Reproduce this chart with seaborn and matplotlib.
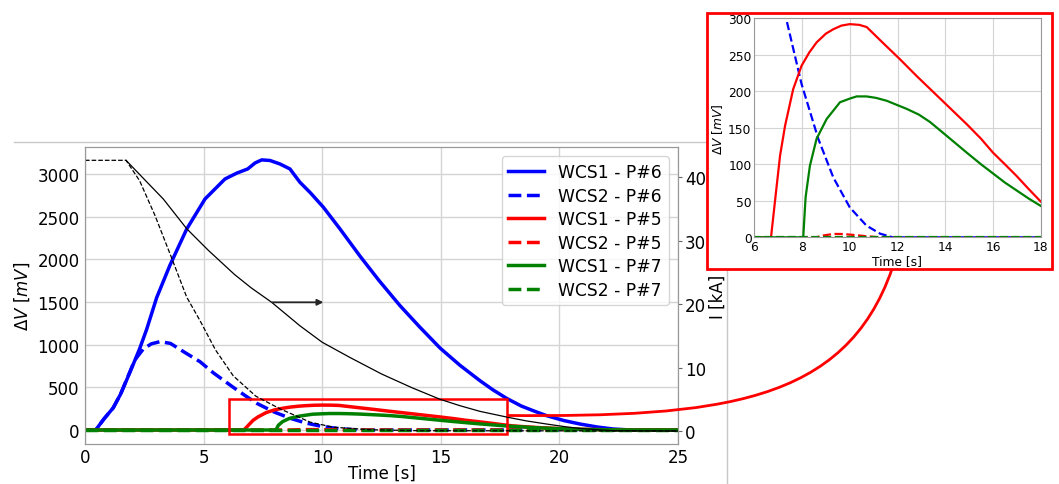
import numpy as np
import matplotlib
matplotlib.use('Agg')
import matplotlib.pyplot as plt
import seaborn as sns
from matplotlib.patches import Rectangle, PathPatch
from matplotlib.path import Path
from matplotlib.lines import Line2D

# --- data ---
t_wcs1_p6 = [0, 0.45, 0.8, 1.19, 1.5, 1.9, 2.3, 2.6, 3.02, 3.58, 4.29, 5.06, 5.9, 6.4, 6.86,
             7.17, 7.45, 7.8, 8.22, 8.64, 9.06, 9.5, 10.05, 10.75, 11.6, 12.4, 13.28, 14.1,
             14.97, 15.8, 16.65, 17.2, 17.78, 18.4, 19.0, 19.46, 20.2, 20.87, 21.6, 22.26, 23.0, 25]
v_wcs1_p6 = [0, 0, 130, 260, 420, 680, 950, 1180, 1550, 1930, 2356, 2707, 2941, 3010, 3059,
             3129, 3165, 3158, 3117, 3059, 2903, 2780, 2610, 2356, 2035, 1750, 1457, 1210,
             960, 760, 578, 470, 370, 280, 215, 168, 110, 70, 35, 12, 0, 0]

t_wcs2_p6 = [0, 0.45, 0.8, 1.19, 1.5, 1.8, 2.1, 2.46, 2.8, 3.16, 3.6, 4.2, 4.85, 5.41, 6.25,
             6.82, 7.26, 7.98, 8.68, 9.31, 10.0, 10.7, 11.27, 11.8, 25]
v_wcs2_p6 = [0, 0, 130, 260, 420, 620, 820, 950, 1010, 1035, 1015, 910, 800, 670, 500,
             390, 310, 210, 135, 82, 41, 16, 5, 0, 0]

t_wcs1_p5 = [0, 6.7, 6.94, 7.08, 7.29, 7.63, 7.98, 8.3, 8.61, 9.0, 9.31, 9.65, 10.0, 10.4,
             10.71, 11.4, 12.1, 12.8, 13.5, 14.2, 14.9, 15.5, 16.0, 16.5, 16.99, 17.5, 18.0,
             18.5, 19.0, 20.0, 21.0, 22.0, 23.0, 25.0]
v_wcs1_p5 = [0, 0, 71, 112, 153, 203, 235, 253, 267, 279, 285, 290, 292, 291,
             288, 266, 244, 221, 199, 177, 155, 135, 116, 100, 84, 66, 49,
             39, 30, 17, 8, 3, 0, 0]

t_wcs2_p5 = [0, 8.6, 8.9, 9.31, 9.7, 10.0, 10.4, 10.7, 11.27, 25]
v_wcs2_p5 = [0, 0, 2.5, 4.6, 4.5, 3.7, 2.5, 1.4, 0, 0]

t_wcs1_p7 = [0, 8.05, 8.15, 8.33, 8.61, 9.03, 9.59, 10.0, 10.29, 10.7, 11.1, 11.55, 12.38,
             12.9, 13.36, 14.06, 14.9, 15.5, 16.02, 16.5, 17.0, 17.5, 18.0, 18.5, 19.0, 20.0,
             21.0, 22.0, 23.0, 25.0]
v_wcs1_p7 = [0, 0, 55, 98, 135, 162, 185, 190, 193, 193, 191, 187, 176,
             168, 158, 139, 116, 100, 87, 75, 64, 53, 43, 35, 27, 15,
             7, 2, 0, 0]

t_wcs2_p7 = [0, 25]
v_wcs2_p7 = [0, 0]

# current [kA]
t_i_solid = [1.73, 2.5, 3.3, 4.29, 5.2, 6.3, 7.0, 7.87, 9.06, 10.0, 11.17, 12.5, 13.8, 14.97,
             15.8, 16.65, 17.78, 18.6, 19.46, 20.2, 20.87, 21.6, 22.3, 25]
i_solid = [42.7, 39.7, 36.6, 31.9, 28.5, 24.7, 22.6, 20.3, 16.6, 14.0, 11.6, 9.0, 6.8, 5.0,
           4.0, 3.1, 2.2, 1.6, 1.1, 0.7, 0.4, 0.2, 0.05, 0]

t_i_dashed = [0, 1.73, 2.3, 2.95, 3.6, 4.29, 4.85, 5.5, 6.25, 7.2, 8.22, 9.49, 10.46, 12.0, 14.0, 25]
i_dashed = [42.7, 42.7, 39.5, 34.0, 27.8, 21.1, 17.4, 12.8, 8.7, 5.5, 3.5, 1.4, 0.6, 0.2, 0.05, 0]

series = [
    (t_wcs1_p6, v_wcs1_p6, 'blue', '-', 'WCS1 - P#6'),
    (t_wcs2_p6, v_wcs2_p6, 'blue', '--', 'WCS2 - P#6'),
    (t_wcs1_p5, v_wcs1_p5, 'red', '-', 'WCS1 - P#5'),
    (t_wcs2_p5, v_wcs2_p5, 'red', '--', 'WCS2 - P#5'),
    (t_wcs1_p7, v_wcs1_p7, 'green', '-', 'WCS1 - P#7'),
    (t_wcs2_p7, v_wcs2_p7, 'green', '--', 'WCS2 - P#7'),
]

W, H = 1059, 485
fig = plt.figure(figsize=(W / 100, H / 100), dpi=100)

def fx(px):
    return px / W

def fy(py):
    return (H - py) / H

spine_col = '0.6'
grid_col = '0.83'

# main axes
ax = fig.add_axes([fx(85), fy(445), fx(678) - fx(85), fy(148) - fy(445)])
for t, v, c, ls, lab in series:
    sns.lineplot(x=t, y=v, ax=ax, color=c, linestyle=ls, linewidth=2.5, label=lab)
ax.set_xlim(0, 25)
ax.set_ylim(-164, 3316)
ax.set_xticks([0, 5, 10, 15, 20, 25])
ax.set_yticks([0, 500, 1000, 1500, 2000, 2500, 3000])
ax.grid(True, color=grid_col, linewidth=1)
ax.set_axisbelow(True)
ax.set_xlabel('Time [s]', fontsize=12, labelpad=-2)
ax.set_ylabel(r'$\Delta V\ [mV]$', fontsize=12)
ax.tick_params(labelsize=12, length=0, pad=4)
ax.tick_params(axis='x', pad=3)
for s in ax.spines.values():
    s.set_color(spine_col)
ax.add_patch(Rectangle((6.07, -47), 17.78 - 6.07, 363 + 47, fill=False,
                       edgecolor='red', linewidth=1.8, zorder=5))
ax.legend(loc='upper right', fontsize=12.3, labelspacing=0.32, handlelength=2.1,
          borderaxespad=0.55)

# current on twin axis
ax2 = ax.twinx()
sns.lineplot(x=t_i_solid, y=i_solid, ax=ax2, color='black', linewidth=0.9, legend=False)
sns.lineplot(x=t_i_dashed, y=i_dashed, ax=ax2, color='black', linestyle='--',
             linewidth=0.9, legend=False)
ax2.set_ylim(-2.05, 44.8)
ax2.set_yticks([0, 10, 20, 30, 40])
ax2.set_ylabel('I [kA]', fontsize=12, labelpad=2)
ax2.tick_params(labelsize=12, color='0.4', length=3, pad=2)
for s in ax2.spines.values():
    s.set_color(spine_col)
ax2.annotate('', xy=(10.05, 20.3), xytext=(7.9, 20.3),
             arrowprops=dict(arrowstyle='-|>', color='0.15', lw=1.3, mutation_scale=9,
                             shrinkA=0, shrinkB=0))

# panel edge lines
fig.add_artist(Line2D([fx(14), fx(707)], [fy(143), fy(143)], color='0.78', lw=1,
                      transform=fig.transFigure, zorder=0.5))
fig.add_artist(Line2D([fx(727), fx(727)], [fy(270), fy(485)], color='0.78', lw=1,
                      transform=fig.transFigure, zorder=0.5))

# box around inset
fig.add_artist(Rectangle((fx(707), fy(269.5)), fx(1052) - fx(707), fy(14) - fy(269.5),
                         facecolor='white', edgecolor='red', linewidth=2,
                         transform=fig.transFigure, zorder=4))

# connector curve
verts = [(fx(507), fy(416.5)), (fx(720), fy(418)), (fx(845), fy(405)), (fx(892), fy(270))]
codes = [Path.MOVETO, Path.CURVE4, Path.CURVE4, Path.CURVE4]
fig.add_artist(PathPatch(Path(verts, codes), facecolor='none', edgecolor='red',
                         linewidth=2, transform=fig.transFigure, zorder=3))

# inset
axi = fig.add_axes([fx(754.3), fy(238.3), fx(1040.7) - fx(754.3), fy(19.3) - fy(238.3)],
                   zorder=5)
for t, v, c, ls, lab in series:
    sns.lineplot(x=t, y=v, ax=axi, color=c, linestyle=ls, linewidth=1.6, legend=False)
axi.set_xlim(6, 18)
axi.set_ylim(0, 300)
axi.set_xticks([6, 8, 10, 12, 14, 16, 18])
axi.set_yticks([0, 50, 100, 150, 200, 250, 300])
axi.grid(True, color=grid_col, linewidth=0.8)
axi.set_axisbelow(True)
axi.set_xlabel('Time [s]', fontsize=8.8, labelpad=1)
axi.set_ylabel(r'$\Delta V\ [mV]$', fontsize=8.8, labelpad=2)
axi.tick_params(labelsize=8.8, length=0, pad=2)
for s in axi.spines.values():
    s.set_color(spine_col)

fig.savefig('out.png', dpi=100)
